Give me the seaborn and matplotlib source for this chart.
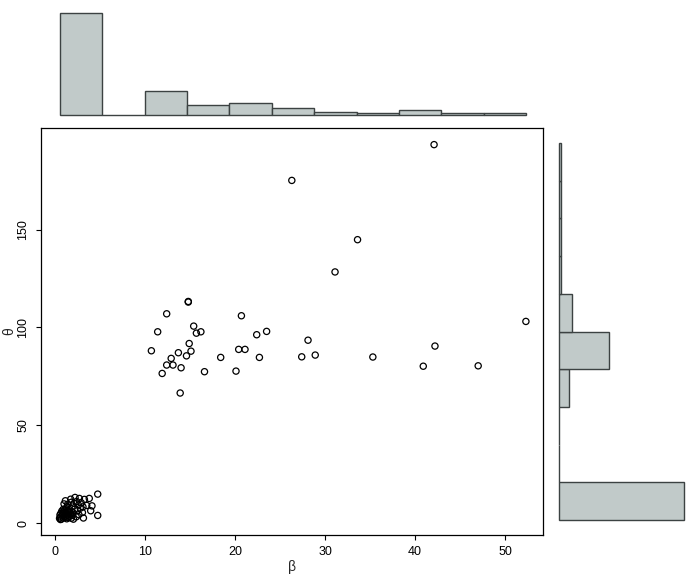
import numpy as np
import pandas as pd
import matplotlib
matplotlib.use('Agg')
import matplotlib.pyplot as plt
import seaborn as sns

# Scatter values: 39 spread-out points, then the cluster near 0
beta = [14.8, 14.8, 12.4, 15.4, 11.4, 15.7, 16.2, 20.7, 22.4, 23.5,
        10.7, 14.9, 13.7, 15.1, 14.6, 12.9, 12.4, 13.1, 14.0, 11.9,
        13.9, 16.6, 18.4, 20.4, 21.1, 20.1, 22.7, 27.4, 28.1, 28.9,
        26.3, 33.6, 31.1, 35.3, 42.1, 42.2, 40.9, 47.0, 52.3,
        4.74, 4.74, 4.1, 3.96, 3.8, 3.52, 3.26, 3.04, 3.15, 2.7,
        2.22, 1.74, 1.15, 2.04, 2.9, 2.6, 2.4, 2.1, 1.9, 2.8,
        3.1, 2.5, 2.2, 1.8, 1.4, 2.65, 2.35, 1.6, 1.3, 1.0,
        0.5, 0.6, 0.7, 0.8, 0.9, 1.0, 1.1, 1.2, 1.3, 1.4,
        1.5, 1.6, 1.7, 1.8, 0.55, 0.65, 0.75, 0.85, 0.95, 1.05,
        1.15, 1.25, 1.35, 1.45, 1.55, 1.65, 0.6, 0.9, 1.9, 2.0]
theta = [113.3, 113.0, 107.0, 100.7, 97.8, 97.1, 97.8, 106.0, 96.3, 98.0,
         88.1, 91.8, 87.1, 87.9, 85.5, 84.2, 80.8, 80.8, 79.4, 76.5,
         66.5, 77.4, 84.7, 88.8, 88.8, 77.7, 84.7, 85.0, 93.5, 85.9,
         175.2, 144.9, 128.4, 84.9, 193.5, 90.5, 80.2, 80.4, 103.1,
         14.8, 3.9, 8.8, 6.3, 12.6, 9.0, 12.1, 5.4, 2.6, 12.6,
         13.1, 12.2, 11.4, 2.0, 10.4, 9.2, 11.0, 10.1, 8.7, 7.6,
         8.3, 6.4, 7.2, 10.6, 9.6, 4.3, 3.2, 6.9, 8.1, 9.8,
         2.4, 3.1, 2.0, 3.8, 2.6, 4.4, 3.0, 5.1, 2.2, 4.0,
         5.8, 3.4, 4.7, 2.5, 4.2, 5.0, 6.1, 4.8, 5.6, 6.6,
         3.6, 7.3, 6.2, 2.8, 4.5, 5.9, 1.8, 7.0, 3.9, 5.3]

df = pd.DataFrame({'beta': beta, 'theta': theta})

beta_bins = np.arange(0, 56, 5)
theta_bins = np.arange(0, 201, 20)
top = max(np.histogram(beta, beta_bins)[0].max(),
          np.histogram(theta, theta_bins)[0].max())

sns.set_theme(style='white')
plt.rcParams['font.family'] = ['Liberation Sans', 'DejaVu Sans']

W, H = 698, 576
fig = plt.figure(figsize=(W / 100, H / 100), dpi=100)


def box(l, t, r, b):
    return [l / W, 1 - b / H, (r - l) / W, (b - t) / H]


ax = fig.add_axes(box(41, 128, 543, 535))
ax_top = fig.add_axes(box(41, 9, 545, 119))
ax_right = fig.add_axes(box(554, 128, 689, 535))

# main scatter
sns.scatterplot(data=df, x='beta', y='theta', ax=ax, marker='o',
                facecolors='none', edgecolors='black', s=20, linewidth=0.9)
ax.set_xlim(-1.56, 54.2)
ax.set_ylim(-6.1, 202)
ax.set_xticks([0, 10, 20, 30, 40, 50])
ax.set_yticks([0, 50, 100, 150])
for sp in ax.spines.values():
    sp.set_color('black')
    sp.set_linewidth(0.9)
ax.tick_params(axis='both', direction='out', length=3.6, width=0.8,
               colors='black', labelsize=9, bottom=True, left=True)
ax.tick_params(axis='x', pad=4)
ax.tick_params(axis='y', pad=5, labelrotation=90)
for lab in ax.get_yticklabels():
    lab.set_va('center')
ax.set_xlabel('β', fontsize=10, labelpad=2)
ax.set_ylabel('θ', fontsize=10)
ax.yaxis.set_label_coords(-0.05, 0.5)

# marginal histograms
bar_color = '#C1CAC9'
edge = '#3C4242'
sns.histplot(x=beta, bins=beta_bins, ax=ax_top, color=bar_color,
             edgecolor=edge, linewidth=1.0, alpha=1)
ax_top.set_xlim(-0.04 * 55, 55 * 1.04)
ax_top.set_ylim(-0.04 * top, top * 1.04)
ax_top.set_axis_off()

sns.histplot(y=theta, bins=theta_bins, ax=ax_right, color=bar_color,
             edgecolor=edge, linewidth=1.0, alpha=1)
ax_right.set_ylim(-0.04 * 200, 200 * 1.04)
ax_right.set_xlim(-0.04 * top, top * 1.04)
ax_right.set_axis_off()

fig.savefig('out.png', dpi=100)
